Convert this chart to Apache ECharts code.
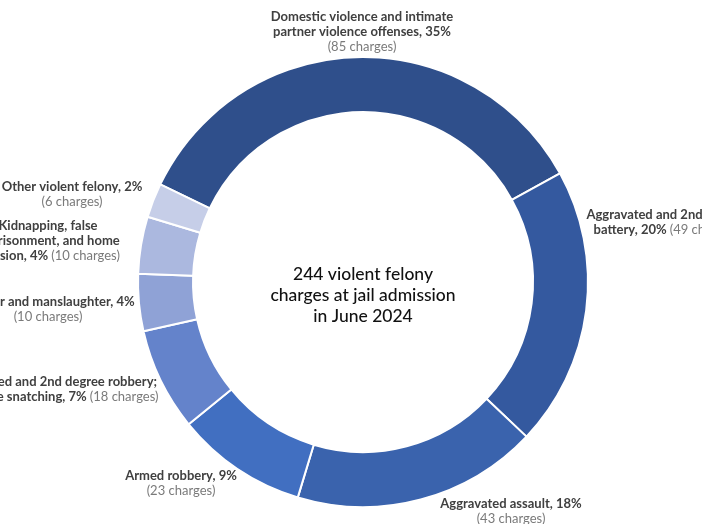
<!DOCTYPE html>
<html>
<head>
<meta charset="utf-8">
<script src="https://cdn.jsdelivr.net/npm/echarts@6/dist/echarts.min.js"></script>
<style>
  html, body { margin: 0; padding: 0; background: #ffffff; }
  #chart { width: 702px; height: 524px; }
</style>
</head>
<body>
<div id="chart"></div>
<script>
// Violent felony charge categories, clockwise from the top slice
const categories = [
  'Domestic violence and intimate\npartner violence offenses',
  'Aggravated and 2nd degree\nbattery',
  'Aggravated assault',
  'Armed robbery',
  'Armed and 2nd degree robbery;\npurse snatching',
  'Murder and manslaughter',
  'Kidnapping, false\nimprisonment, and home\ninvasion',
  'Other violent felony'
];
// Number of charges in each category
const charges = [85, 49, 43, 23, 18, 10, 10, 6];
// Whether the charge count sits on its own line or follows the percentage
const countOnNewLine = [true, false, true, true, false, true, false, true];

const sliceColors = ['#2f4f8b', '#34599f', '#3a63ad', '#416fc1', '#6483cb', '#8fa2d6', '#abb8df', '#c6cee8'];

// Where each label block is centred on the page
const labelCentres = [
  [362, 32], [666, 222], [511, 511], [181, 483],
  [65, 389], [48, 309], [48, 241], [72, 194]
];

const centreTitle = '244 violent felony\ncharges at jail admission\nin June 2024';

const chart = echarts.init(document.getElementById('chart'), null, { renderer: 'canvas' });

chart.setOption({
  animation: false,
  backgroundColor: '#ffffff',
  textStyle: { fontFamily: 'Lato, sans-serif' },
  graphic: [{
    type: 'text',
    x: 363,
    y: 295,
    style: {
      text: centreTitle,
      textAlign: 'center',
      textVerticalAlign: 'middle',
      fontFamily: 'Lato, sans-serif',
      fontSize: 17.5,
      fontWeight: 500,
      lineHeight: 21,
      fill: '#111111'
    }
  }],
  series: [{
    type: 'pie',
    center: [363, 282],
    radius: [170, 225],
    startAngle: 154.3,
    clockwise: true,
    avoidLabelOverlap: false,
    silent: true,
    itemStyle: { borderColor: '#ffffff', borderWidth: 2 },
    labelLine: { show: false },
    label: {
      show: true,
      position: 'outside',
      overflow: 'none',
      align: 'center',
      lineHeight: 15,
      formatter: function (p) {
        const pct = Math.round(p.percent);
        const sep = countOnNewLine[p.dataIndex] ? '\n' : ' ';
        return '{b|' + p.name.split('\n').join('}\n{b|') + ', ' + pct + '%}' + sep + '{c|(' + p.value + ' charges)}';
      },
      rich: {
        b: { fontFamily: 'Lato, sans-serif', fontSize: 13, fontWeight: 'bold', color: '#404040', lineHeight: 15 },
        c: { fontFamily: 'Lato, sans-serif', fontSize: 13, fontWeight: 'normal', color: '#7a7a7a', lineHeight: 15 }
      }
    },
    labelLayout: function (params) {
      const c = labelCentres[params.dataIndex];
      return { x: c[0], y: c[1], align: 'center', verticalAlign: 'middle' };
    },
    data: categories.map(function (name, i) {
      return { name: name, value: charges[i], itemStyle: { color: sliceColors[i] } };
    })
  }]
});
</script>
</body>
</html>
